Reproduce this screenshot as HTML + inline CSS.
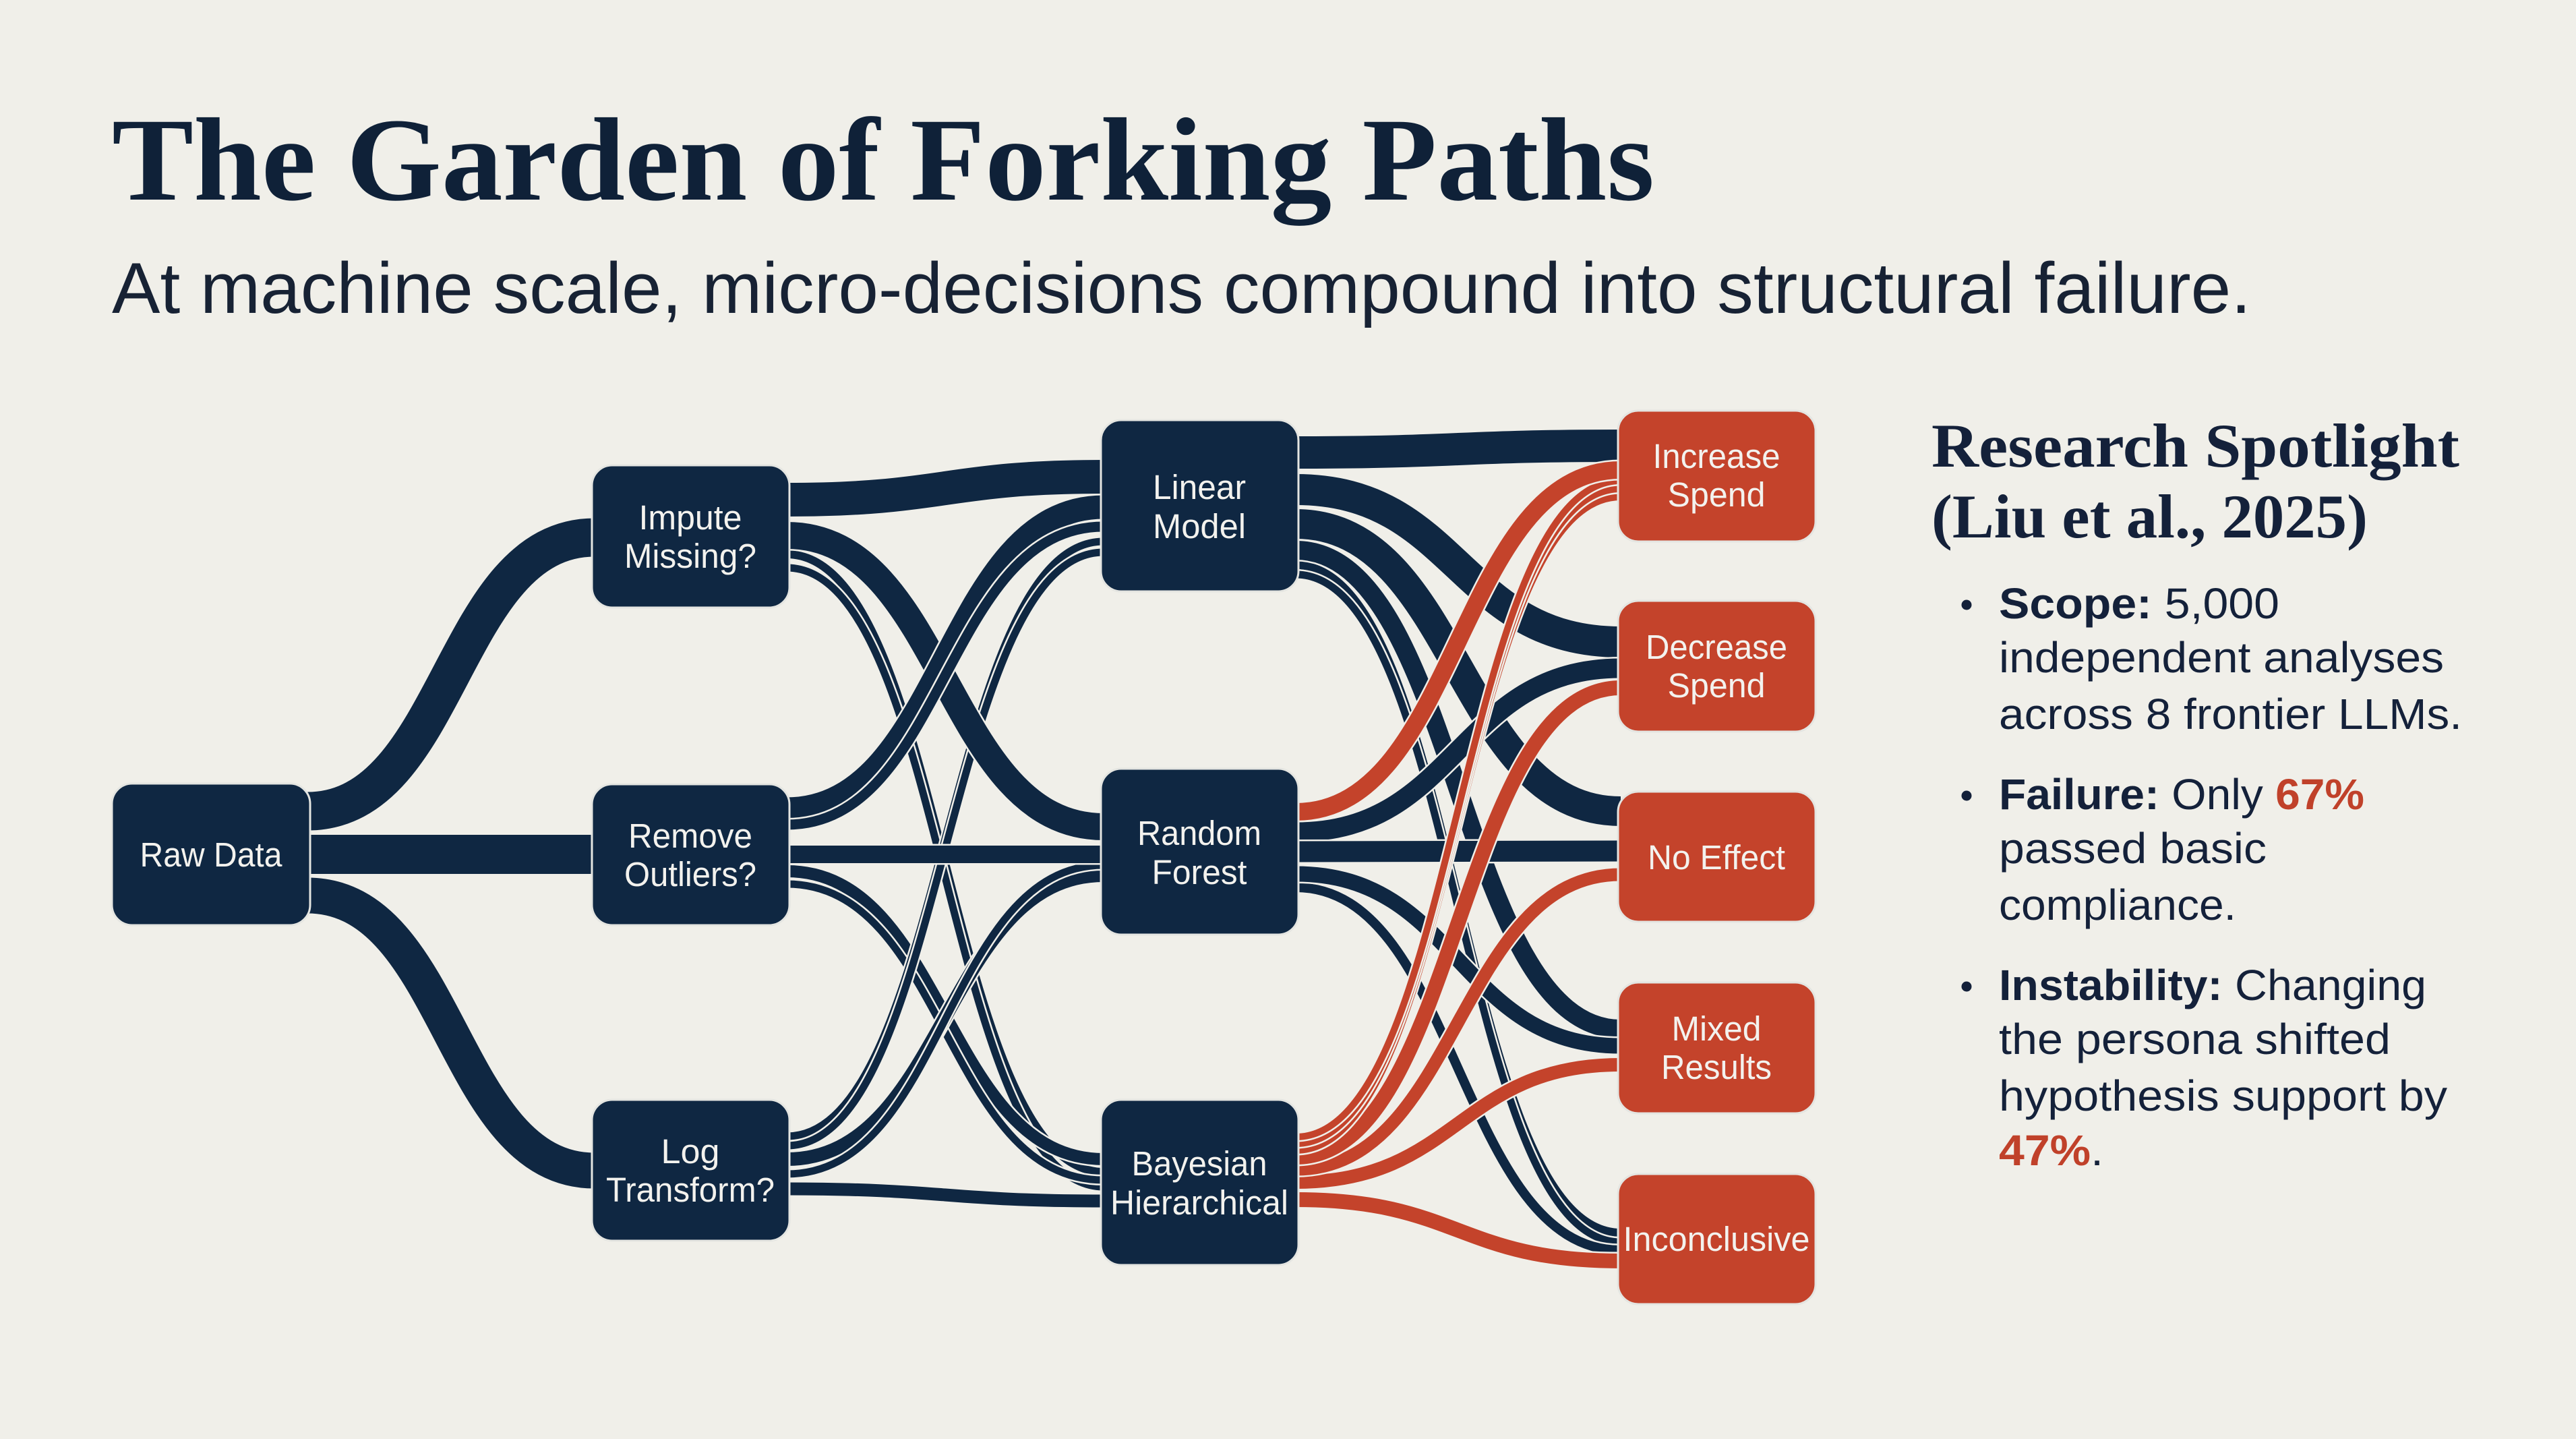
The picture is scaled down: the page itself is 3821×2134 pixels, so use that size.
<!DOCTYPE html>
<html>
<head>
<meta charset="utf-8">
<style>
  html, body { margin: 0; padding: 0; background: #f0efe9; }
  svg { display: block; }
</style>
</head>
<body>
<svg xmlns="http://www.w3.org/2000/svg" width="3821" height="2134" viewBox="0 0 3821 2134">
  <rect x="0" y="0" width="3821" height="2134" fill="#f0efe9"/>

  <!-- Title -->
  <text x="166" y="296" font-family="'Liberation Serif', serif" font-weight="bold" font-size="176" fill="#0f2138" textLength="2288" lengthAdjust="spacingAndGlyphs">The Garden of Forking Paths</text>
  <text x="166" y="464" font-family="'Liberation Sans', sans-serif" font-size="107" fill="#172234" textLength="3173" lengthAdjust="spacingAndGlyphs">At machine scale, micro-decisions compound into structural failure.</text>

  <!-- ===== Stage 1 edges ===== -->
  <g fill="none" stroke-linecap="butt">
    <path d="M456 1203 C669 1203 669 797 882 797" stroke="#f0efe9" stroke-width="63"/>
    <path d="M456 1203 C669 1203 669 797 882 797" stroke="#0f2742" stroke-width="57"/>
    <path d="M456 1328 C669 1328 669 1736 882 1736" stroke="#f0efe9" stroke-width="59"/>
    <path d="M456 1328 C669 1328 669 1736 882 1736" stroke="#0f2742" stroke-width="53"/>
    <path d="M456 1267 L882 1267" stroke="#f0efe9" stroke-width="63"/>
    <path d="M456 1267 L882 1267" stroke="#0f2742" stroke-width="58"/>
  </g>

  <!-- ===== Stage 2 edges ===== -->
  <g fill="none" stroke-linecap="butt">
    <!-- Impute -> Bayesian (thin) -->
    <path d="M1167 822 C1402 822 1402 1738 1637 1738" stroke="#f0efe9" stroke-width="17"/>
    <path d="M1167 822 C1402 822 1402 1738 1637 1738" stroke="#0f2742" stroke-width="12"/>
    <path d="M1167 842 C1402 842 1402 1760 1637 1760" stroke="#f0efe9" stroke-width="16"/>
    <path d="M1167 842 C1402 842 1402 1760 1637 1760" stroke="#0f2742" stroke-width="11"/>
    <!-- Remove -> Bayesian -->
    <path d="M1167 1292 C1402 1292 1402 1719 1637 1719" stroke="#f0efe9" stroke-width="23"/>
    <path d="M1167 1292 C1402 1292 1402 1719 1637 1719" stroke="#0f2742" stroke-width="18"/>
    <path d="M1167 1311 C1402 1311 1402 1750 1637 1750" stroke="#f0efe9" stroke-width="16"/>
    <path d="M1167 1311 C1402 1311 1402 1750 1637 1750" stroke="#0f2742" stroke-width="11"/>
    <!-- Log -> Linear (thin) -->
    <path d="M1167 1685 C1402 1685 1402 803 1637 803" stroke="#f0efe9" stroke-width="16"/>
    <path d="M1167 1685 C1402 1685 1402 803 1637 803" stroke="#0f2742" stroke-width="11"/>
    <path d="M1167 1699 C1402 1699 1402 819 1637 819" stroke="#f0efe9" stroke-width="16"/>
    <path d="M1167 1699 C1402 1699 1402 819 1637 819" stroke="#0f2742" stroke-width="11"/>
    <!-- Impute -> Random Forest -->
    <path d="M1167 794 C1402 794 1402 1226 1637 1226" stroke="#f0efe9" stroke-width="45"/>
    <path d="M1167 794 C1402 794 1402 1226 1637 1226" stroke="#0f2742" stroke-width="40"/>
    <!-- Log -> Random Forest -->
    <path d="M1167 1719 C1402 1719 1402 1298 1637 1298" stroke="#f0efe9" stroke-width="25"/>
    <path d="M1167 1719 C1402 1719 1402 1298 1637 1298" stroke="#0f2742" stroke-width="20"/>
    <path d="M1167 1741 C1402 1741 1402 1283 1637 1283" stroke="#f0efe9" stroke-width="16"/>
    <path d="M1167 1741 C1402 1741 1402 1283 1637 1283" stroke="#0f2742" stroke-width="11"/>
    <!-- Remove -> Linear -->
    <path d="M1167 1200 C1402 1200 1402 752 1637 752" stroke="#f0efe9" stroke-width="40"/>
    <path d="M1167 1200 C1402 1200 1402 752 1637 752" stroke="#0f2742" stroke-width="35"/>
    <path d="M1167 1223 C1402 1223 1402 781 1637 781" stroke="#f0efe9" stroke-width="20"/>
    <path d="M1167 1223 C1402 1223 1402 781 1637 781" stroke="#0f2742" stroke-width="15"/>
    <!-- Impute -> Linear -->
    <path d="M1167 741 C1402 741 1402 707 1637 707" stroke="#f0efe9" stroke-width="55"/>
    <path d="M1167 741 C1402 741 1402 707 1637 707" stroke="#0f2742" stroke-width="50"/>
    <!-- Remove -> Random Forest straight -->
    <path d="M1167 1267 L1637 1267" stroke="#f0efe9" stroke-width="31"/>
    <path d="M1167 1267 L1637 1267" stroke="#0f2742" stroke-width="26"/>
    <!-- Log -> Bayesian -->
    <path d="M1167 1763 C1402 1763 1402 1781 1637 1781" stroke="#f0efe9" stroke-width="24"/>
    <path d="M1167 1763 C1402 1763 1402 1781 1637 1781" stroke="#0f2742" stroke-width="19"/>
  </g>

  <!-- ===== Stage 3 edges ===== -->
  <g fill="none" stroke-linecap="butt">
    <!-- navy -->
    <path d="M1922 838 C2163 838 2163 1828 2404 1828" stroke="#f0efe9" stroke-width="17"/>
    <path d="M1922 838 C2163 838 2163 1828 2404 1828" stroke="#0f2742" stroke-width="12"/>
    <path d="M1922 852 C2163 852 2163 1842 2404 1842" stroke="#f0efe9" stroke-width="16"/>
    <path d="M1922 852 C2163 852 2163 1842 2404 1842" stroke="#0f2742" stroke-width="11"/>
    <path d="M1922 1316 C2163 1316 2163 1854 2404 1854" stroke="#f0efe9" stroke-width="19"/>
    <path d="M1922 1316 C2163 1316 2163 1854 2404 1854" stroke="#0f2742" stroke-width="14"/>
    <path d="M1922 816 C2163 816 2163 1526 2404 1526" stroke="#f0efe9" stroke-width="33"/>
    <path d="M1922 816 C2163 816 2163 1526 2404 1526" stroke="#0f2742" stroke-width="28"/>
    <path d="M1922 1296 C2163 1296 2163 1551 2404 1551" stroke="#f0efe9" stroke-width="28"/>
    <path d="M1922 1296 C2163 1296 2163 1551 2404 1551" stroke="#0f2742" stroke-width="23"/>
    <path d="M1922 777 C2163 777 2163 1203 2404 1203" stroke="#f0efe9" stroke-width="49"/>
    <path d="M1922 777 C2163 777 2163 1203 2404 1203" stroke="#0f2742" stroke-width="44"/>
    <path d="M1922 726 C2163 726 2163 952 2404 952" stroke="#f0efe9" stroke-width="51"/>
    <path d="M1922 726 C2163 726 2163 952 2404 952" stroke="#0f2742" stroke-width="46"/>
    <path d="M1922 1234 C2163 1234 2163 991 2404 991" stroke="#f0efe9" stroke-width="34"/>
    <path d="M1922 1234 C2163 1234 2163 991 2404 991" stroke="#0f2742" stroke-width="29"/>
    <path d="M1922 1263 C2163 1263 2163 1262 2404 1262" stroke="#f0efe9" stroke-width="36"/>
    <path d="M1922 1263 C2163 1263 2163 1262 2404 1262" stroke="#0f2742" stroke-width="31"/>
    <path d="M1922 671 C2163 671 2163 661 2404 661" stroke="#f0efe9" stroke-width="53"/>
    <path d="M1922 671 C2163 671 2163 661 2404 661" stroke="#0f2742" stroke-width="48"/>
    <!-- red -->
    <path d="M1922 1779 C2163 1779 2163 1870 2404 1870" stroke="#f0efe9" stroke-width="27"/>
    <path d="M1922 1779 C2163 1779 2163 1870 2404 1870" stroke="#c4432b" stroke-width="22"/>
    <path d="M1922 1753 C2163 1753 2163 1579 2404 1579" stroke="#f0efe9" stroke-width="25"/>
    <path d="M1922 1753 C2163 1753 2163 1579 2404 1579" stroke="#c4432b" stroke-width="20"/>
    <path d="M1922 1734 C2163 1734 2163 1297 2404 1297" stroke="#f0efe9" stroke-width="24"/>
    <path d="M1922 1734 C2163 1734 2163 1297 2404 1297" stroke="#c4432b" stroke-width="19"/>
    <path d="M1922 1716 C2163 1716 2163 1020 2404 1020" stroke="#f0efe9" stroke-width="27"/>
    <path d="M1922 1716 C2163 1716 2163 1020 2404 1020" stroke="#c4432b" stroke-width="22"/>
    <path d="M1922 1706 C2163 1706 2163 737 2404 737" stroke="#f0efe9" stroke-width="15"/>
    <path d="M1922 1706 C2163 1706 2163 737 2404 737" stroke="#c4432b" stroke-width="10"/>
    <path d="M1922 1696 C2163 1696 2163 725 2404 725" stroke="#f0efe9" stroke-width="15"/>
    <path d="M1922 1696 C2163 1696 2163 725 2404 725" stroke="#c4432b" stroke-width="10"/>
    <path d="M1922 1686 C2163 1686 2163 713 2404 713" stroke="#f0efe9" stroke-width="15"/>
    <path d="M1922 1686 C2163 1686 2163 713 2404 713" stroke="#c4432b" stroke-width="10"/>
    <path d="M1922 1204 C2163 1204 2163 697 2404 697" stroke="#f0efe9" stroke-width="31"/>
    <path d="M1922 1204 C2163 1204 2163 697 2404 697" stroke="#c4432b" stroke-width="26"/>
  </g>

  <!-- ===== Nodes ===== -->
  <g stroke="#e4e5e1" stroke-width="3">
    <rect x="166" y="1162" width="294" height="210" rx="30" fill="#0f2742"/>
    <rect x="878" y="690" width="293" height="211" rx="30" fill="#0f2742"/>
    <rect x="878" y="1163" width="293" height="209" rx="30" fill="#0f2742"/>
    <rect x="878" y="1631" width="293" height="209" rx="30" fill="#0f2742"/>
    <rect x="1633" y="623" width="293" height="254" rx="30" fill="#0f2742"/>
    <rect x="1633" y="1140" width="293" height="246" rx="30" fill="#0f2742"/>
    <rect x="1633" y="1631" width="293" height="245" rx="30" fill="#0f2742"/>
    <rect x="2400" y="609" width="293" height="194" rx="30" fill="#c4432b"/>
    <rect x="2400" y="891" width="293" height="194" rx="30" fill="#c4432b"/>
    <rect x="2400" y="1174" width="293" height="193" rx="30" fill="#c4432b"/>
    <rect x="2400" y="1457" width="293" height="194" rx="30" fill="#c4432b"/>
    <rect x="2400" y="1741" width="293" height="193" rx="30" fill="#c4432b"/>
  </g>

  <!-- Node labels -->
  <g font-family="'Liberation Sans', sans-serif" font-size="51" fill="#f3f2ee" text-anchor="middle">
    <text x="313" y="1285" textLength="211" lengthAdjust="spacingAndGlyphs">Raw Data</text>

    <text x="1024" y="785" textLength="153" lengthAdjust="spacingAndGlyphs">Impute</text>
    <text x="1024" y="842" textLength="196" lengthAdjust="spacingAndGlyphs">Missing?</text>
    <text x="1024" y="1257" textLength="184" lengthAdjust="spacingAndGlyphs">Remove</text>
    <text x="1024" y="1314" textLength="196" lengthAdjust="spacingAndGlyphs">Outliers?</text>
    <text x="1024" y="1725" textLength="87" lengthAdjust="spacingAndGlyphs">Log</text>
    <text x="1024" y="1782" textLength="250" lengthAdjust="spacingAndGlyphs">Transform?</text>

    <text x="1779" y="740" textLength="138" lengthAdjust="spacingAndGlyphs">Linear</text>
    <text x="1779" y="798" textLength="138" lengthAdjust="spacingAndGlyphs">Model</text>
    <text x="1779" y="1253" textLength="184" lengthAdjust="spacingAndGlyphs">Random</text>
    <text x="1779" y="1311" textLength="141" lengthAdjust="spacingAndGlyphs">Forest</text>
    <text x="1779" y="1743" textLength="201" lengthAdjust="spacingAndGlyphs">Bayesian</text>
    <text x="1779" y="1801" textLength="264" lengthAdjust="spacingAndGlyphs">Hierarchical</text>

    <text x="2546" y="694" textLength="189" lengthAdjust="spacingAndGlyphs">Increase</text>
    <text x="2546" y="751" textLength="145" lengthAdjust="spacingAndGlyphs">Spend</text>
    <text x="2546" y="977" textLength="210" lengthAdjust="spacingAndGlyphs">Decrease</text>
    <text x="2546" y="1034" textLength="145" lengthAdjust="spacingAndGlyphs">Spend</text>
    <text x="2546" y="1289" textLength="204" lengthAdjust="spacingAndGlyphs">No Effect</text>
    <text x="2546" y="1543" textLength="133" lengthAdjust="spacingAndGlyphs">Mixed</text>
    <text x="2546" y="1600" textLength="164" lengthAdjust="spacingAndGlyphs">Results</text>
    <text x="2546" y="1855" textLength="277" lengthAdjust="spacingAndGlyphs">Inconclusive</text>
  </g>

  <!-- ===== Research Spotlight panel ===== -->
  <g font-family="'Liberation Serif', serif" font-weight="bold" font-size="92" fill="#14213a">
    <text x="2865" y="692" textLength="783" lengthAdjust="spacingAndGlyphs">Research Spotlight</text>
    <text x="2865" y="797" textLength="647" lengthAdjust="spacingAndGlyphs">(Liu et al., 2025)</text>
  </g>

  <g fill="#14213a">
    <circle cx="2917" cy="897" r="7.5"/>
    <circle cx="2917" cy="1180" r="7.5"/>
    <circle cx="2917" cy="1463" r="7.5"/>
  </g>

  <g font-family="'Liberation Sans', sans-serif" font-size="64" fill="#14213a">
    <text x="2965" y="917" textLength="416" lengthAdjust="spacingAndGlyphs"><tspan font-weight="bold">Scope:</tspan> 5,000</text>
    <text x="2965" y="997" textLength="660" lengthAdjust="spacingAndGlyphs">independent analyses</text>
    <text x="2965" y="1081" textLength="687" lengthAdjust="spacingAndGlyphs">across 8 frontier LLMs.</text>

    <text x="2965" y="1200" textLength="542" lengthAdjust="spacingAndGlyphs"><tspan font-weight="bold">Failure:</tspan> Only <tspan font-weight="bold" fill="#c0412a">67%</tspan></text>
    <text x="2965" y="1280" textLength="397" lengthAdjust="spacingAndGlyphs">passed basic</text>
    <text x="2965" y="1364" textLength="352" lengthAdjust="spacingAndGlyphs">compliance.</text>

    <text x="2965" y="1483" textLength="634" lengthAdjust="spacingAndGlyphs"><tspan font-weight="bold">Instability:</tspan> Changing</text>
    <text x="2965" y="1563" textLength="581" lengthAdjust="spacingAndGlyphs">the persona shifted</text>
    <text x="2965" y="1647" textLength="665" lengthAdjust="spacingAndGlyphs">hypothesis support by</text>
    <text x="2965" y="1728" textLength="155" lengthAdjust="spacingAndGlyphs"><tspan font-weight="bold" fill="#c0412a">47%</tspan>.</text>
  </g>
</svg>
</body>
</html>
